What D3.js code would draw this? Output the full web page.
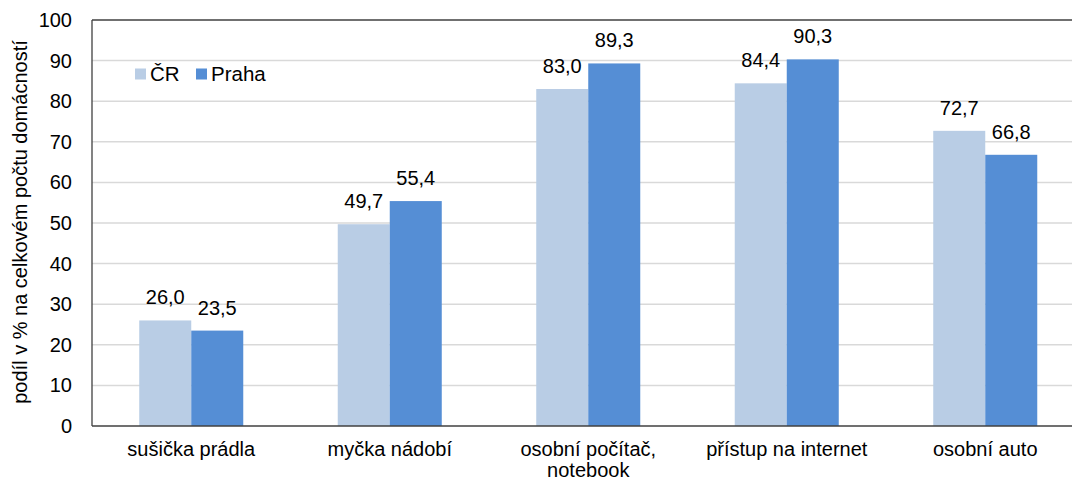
<!DOCTYPE html>
<html>
<head>
<meta charset="utf-8">
<script src="https://cdn.jsdelivr.net/npm/d3@7"></script>
<style>
  body { margin: 0; background: #fff; overflow: hidden; }
  text { font-family: "Liberation Sans", Arial, sans-serif; fill: #000; }
</style>
</head>
<body>
<div id="chart"></div>
<script>
// data
var categories = ["sušička prádla", "myčka nádobí", "osobní počítač, notebook", "přístup na internet", "osobní auto"];
var catLines = [["sušička prádla"], ["myčka nádobí"], ["osobní počítač,", "notebook"], ["přístup na internet"], ["osobní auto"]];
var seriesNames = ["ČR", "Praha"];
var valuesCR = [26.0, 49.7, 83.0, 84.4, 72.7];
var valuesPraha = [23.5, 55.4, 89.3, 90.3, 66.8];
var yTicks = [0, 10, 20, 30, 40, 50, 60, 70, 80, 90, 100];

var width = 1072, height = 481;
var margin = {top: 20, bottom: 55, left: 92};
var plotRight = 1084.5; // plot area runs a bit past the picture edge
var colors = ["#B9CDE5", "#558ED5"];

var svg = d3.select("#chart").append("svg")
  .attr("width", width)
  .attr("height", height);

var x = d3.scaleBand()
  .domain(categories)
  .range([margin.left, plotRight])
  .paddingInner(0.476)
  .paddingOuter(0.238);

var x1 = d3.scaleBand()
  .domain(seriesNames)
  .range([0, x.bandwidth()]);

var y = d3.scaleLinear()
  .domain([0, 100])
  .range([height - margin.bottom, margin.top]);

// gridlines
svg.append("g")
  .selectAll("line")
  .data(yTicks.filter(d => d > 0 && d < 100))
  .enter().append("line")
  .attr("x1", margin.left)
  .attr("x2", width)
  .attr("y1", d => y(d))
  .attr("y2", d => y(d))
  .style("stroke", "#D9D9D9")
  .style("stroke-width", 1.5);

// y tick labels
svg.append("g")
  .selectAll("text")
  .data(yTicks)
  .enter().append("text")
  .attr("x", 72)
  .attr("y", d => y(d))
  .attr("dy", "0.35em")
  .attr("text-anchor", "end")
  .style("font-size", "20px")
  .text(d => d);

// bars
var series = [valuesCR, valuesPraha];
var groups = svg.append("g")
  .selectAll("g")
  .data(categories)
  .enter().append("g")
  .attr("transform", d => "translate(" + x(d) + ",0)");

groups.selectAll("rect")
  .data((d, i) => seriesNames.map((s, j) => ({s: s, v: series[j][i], j: j})))
  .enter().append("rect")
  .attr("x", d => x1(d.s))
  .attr("width", x1.bandwidth())
  .attr("y", d => y(d.v))
  .attr("height", d => y(0) - y(d.v))
  .style("fill", d => colors[d.j]);

groups.selectAll("text.val")
  .data((d, i) => seriesNames.map((s, j) => ({s: s, v: series[j][i], j: j})))
  .enter().append("text")
  .attr("class", "val")
  .attr("x", d => x1(d.s) + x1.bandwidth() / 2)
  .attr("y", d => y(d.v) - 16)
  .attr("text-anchor", "middle")
  .style("font-size", "20px")
  .text(d => d.v.toFixed(1).replace(".", ","));

// frame lines
svg.append("line")
  .attr("x1", margin.left).attr("x2", margin.left)
  .attr("y1", margin.top).attr("y2", y(0))
  .style("stroke", "#404040").style("stroke-width", 1.3);
svg.append("line")
  .attr("x1", margin.left).attr("x2", width)
  .attr("y1", margin.top).attr("y2", margin.top)
  .style("stroke", "#404040").style("stroke-width", 1.3);
svg.append("line")
  .attr("x1", margin.left).attr("x2", width)
  .attr("y1", y(0)).attr("y2", y(0))
  .style("stroke", "#404040").style("stroke-width", 1.3);

// category labels
var catText = svg.append("g")
  .selectAll("text")
  .data(categories)
  .enter().append("text")
  .attr("x", d => x(d) + x.bandwidth() / 2)
  .attr("y", 456)
  .attr("text-anchor", "middle")
  .style("font-size", "20px");
catText.selectAll("tspan")
  .data((d, i) => catLines[i])
  .enter().append("tspan")
  .attr("x", function() { return d3.select(this.parentNode).attr("x"); })
  .attr("dy", (d, i) => i === 0 ? 0 : 21)
  .text(d => d);

// y axis title
svg.append("text")
  .attr("transform", "translate(27,222) rotate(-90)")
  .attr("text-anchor", "middle")
  .style("font-size", "20px")
  .text("podíl v % na celkovém počtu domácností");

// legend
var legend = svg.append("g").attr("transform", "translate(135,74)");
var lx = [0, 61];
seriesNames.forEach(function(s, i) {
  legend.append("rect")
    .attr("x", lx[i]).attr("y", -5.5)
    .attr("width", 11).attr("height", 11)
    .style("fill", colors[i]);
  legend.append("text")
    .attr("x", lx[i] + 15).attr("y", 0)
    .attr("dy", "0.35em")
    .style("font-size", "20.5px")
    .text(s);
});
</script>
</body>
</html>
